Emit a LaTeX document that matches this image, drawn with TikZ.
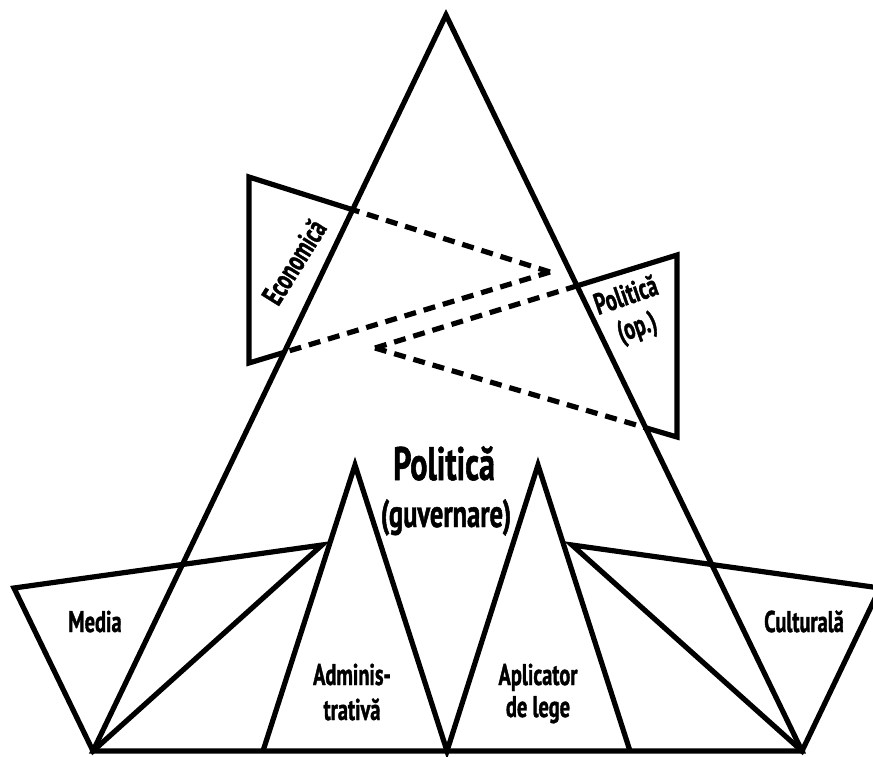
\documentclass[tikz,border=0pt]{standalone}
\usepackage{fontspec}
\setmainfont{PT Sans}[FakeStretch=0.68, BoldFeatures={FakeBold=1.2}]
\begin{document}
\begin{tikzpicture}[x=1pt,y=-1pt,
  outline/.style={line width=5.2pt, line join=miter, line cap=butt, draw=black},
  dashline/.style={line width=5.2pt, line cap=butt, dash pattern=on 12pt off 8pt, draw=black},
  lbl/.style={font=\bfseries\fontsize{30}{33}\selectfont, inner sep=0pt, align=center},
  bigtitle/.style={font=\bfseries\fontsize{47}{50}\selectfont, inner sep=0pt},
  subtitle/.style={font=\bfseries\fontsize{39}{42}\selectfont, inner sep=0pt}]
\useasboundingbox (0,0) rectangle (873,756);

% main pyramid
\coordinate (apex) at (446,15);
\coordinate (bl) at (93,751);
\coordinate (br) at (802,751);
\draw[outline] (bl) -- (apex) -- (br) -- cycle;

% Media (left inverted triangle)
\coordinate (m1) at (14,588);
\coordinate (m2) at (322,545);
\draw[outline] (m1) -- (m2) -- (bl) -- cycle;

% Culturala (right inverted triangle)
\coordinate (c1) at (572,545);
\coordinate (c2) at (880,588);
\draw[outline] (c1) -- (c2) -- (br) -- cycle;

% Administrativa and Aplicator de lege (two inner peaks)
\coordinate (a1) at (263,751);
\coordinate (a2) at (355,465);
\coordinate (mid) at (447,751);
\coordinate (p2) at (538,465);
\coordinate (p3) at (630,751);
\draw[outline] (a1) -- (a2) -- (mid) -- (p2) -- (p3);

% Economica wedge, dashed inside the pyramid
\coordinate (e1) at (249,177);
\coordinate (e2) at (249,363);
\coordinate (e3) at (550,272);
\coordinate (e1x) at (intersection of e1--e3 and bl--apex);
\coordinate (e2x) at (intersection of e2--e3 and bl--apex);
\draw[outline] (e1x) -- (e1) -- (e2) -- (e2x);
\draw[dashline] (e3) -- (e1x);
\draw[dashline] (e3) -- (e2x);

% Politica (op.) wedge, dashed inside the pyramid
\coordinate (o1) at (677,255);
\coordinate (o2) at (677,437);
\coordinate (o3) at (375,348);
\coordinate (o1x) at (intersection of o1--o3 and apex--br);
\coordinate (o2x) at (intersection of o2--o3 and apex--br);
\draw[outline] (o1x) -- (o1) -- (o2) -- (o2x);
\draw[dashline] (o3) -- (o1x);
\draw[dashline] (o3) -- (o2x);

% labels
\node[bigtitle, anchor=base] (title) at (444,480) {Politică};
\node[subtitle, anchor=base] (subt) at (446,527) {(guvernare)};
\node[lbl, anchor=base] (media) at (95,632) {Media};
\node[lbl, anchor=base] (cult) at (804,632) {Culturală};
\node[lbl, anchor=base] (adma) at (352,685) {Adminis-};
\node[lbl, anchor=base] (admb) at (352,720) {trativă};
\node[lbl, anchor=base] (apla) at (538,685) {Aplicator};
\node[lbl, anchor=base] (aplb) at (538,717) {de lege};
\node[lbl, rotate=58] (econ) at (294,262) {Economică};
\node[lbl, rotate=19] (polop) at (632,313) {Politică\\(op.)};
\end{tikzpicture}
\end{document}
